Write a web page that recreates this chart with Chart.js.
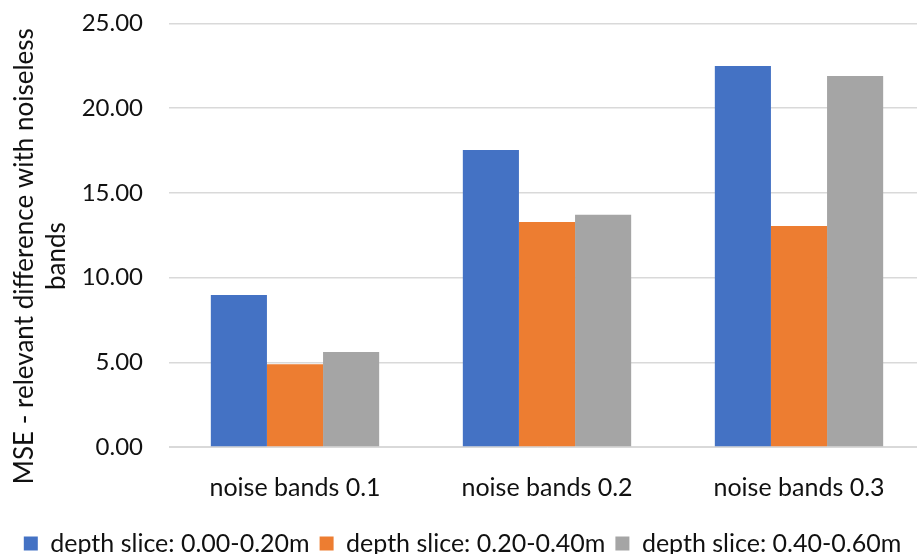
<!DOCTYPE html>
<html>
<head>
<meta charset="utf-8">
<script src="https://cdn.jsdelivr.net/npm/chart.js@4"></script>
<style>
    html, body { margin: 0; padding: 0; background: #fff; overflow: hidden; }
    #wrap { width: 925px; height: 571px; margin-top: -17px; }
</style>
</head>
<body>
<div id="wrap"><canvas id="mseChart"></canvas></div>
<script>
// MSE per noise level, split by depth slice
const categories = ['noise bands 0.1', 'noise bands 0.2', 'noise bands 0.3'];
const sliceLabels = ['depth slice: 0.00-0.20m', 'depth slice: 0.20-0.40m', 'depth slice: 0.40-0.60m'];
const slice000to020 = [8.97, 17.53, 22.49];
const slice020to040 = [4.88, 13.28, 13.05];
const slice040to060 = [5.61, 13.70, 21.90];
const yTicks = [0, 5, 10, 15, 20, 25];
const yTitleLines = ['MSE - relevant difference with noiseless', 'bands'];

const colors = ['#4472C4', '#ED7D31', '#A5A5A5'];
const fontFamily = 'Lato, "Open Sans", sans-serif';
const textColor = '#111';

const series = [slice000to020, slice020to040, slice040to060];

// Two-line rotated y title, sitting a bit below the middle of the plot
const yTitlePlugin = {
    id: 'yTitle',
    afterDraw(chart) {
        const { ctx, chartArea } = chart;
        const cy = (chartArea.top + chartArea.bottom) / 2 + 21;
        ctx.save();
        ctx.font = `26px ${fontFamily}`;
        ctx.fillStyle = textColor;
        ctx.textAlign = 'center';
        ctx.textBaseline = 'middle';
        yTitleLines.forEach((line, i) => {
            ctx.save();
            ctx.translate(25 + i * 32, cy);
            ctx.rotate(-Math.PI / 2);
            ctx.fillText(line, 0, 0);
            ctx.restore();
        });
        ctx.restore();
    }
};

const ctx = document.getElementById('mseChart').getContext('2d');
new Chart(ctx, {
    type: 'bar',
    data: {
        labels: categories,
        datasets: series.map((values, i) => ({
            label: sliceLabels[i],
            data: values,
            backgroundColor: colors[i],
            borderWidth: 0,
            barPercentage: 1.0,
            categoryPercentage: 0.668
        }))
    },
    options: {
        responsive: true,
        maintainAspectRatio: false,
        animation: false,
        layout: { padding: { top: -23, right: 0, bottom: -12, left: 0 } },
        plugins: {
            legend: {
                position: 'bottom',
                labels: {
                    color: textColor,
                    font: { family: fontFamily, size: 25 },
                    boxWidth: 14,
                    boxHeight: 14,
                    padding: 10
                }
            },
            tooltip: { enabled: false }
        },
        scales: {
            x: {
                grid: { display: false },
                border: { color: '#D9D9D9', width: 1 },
                ticks: {
                    color: textColor,
                    font: { family: fontFamily, size: 25 },
                    padding: 18
                }
            },
            y: {
                min: 0,
                max: 25,
                afterBuildTicks: axis => {
                    axis.ticks = yTicks.map(v => ({ value: v }));
                },
                // fixed axis width (title + tick labels) so the plot starts at the same x
                afterFit: axis => {
                    axis.width = 169;
                },
                grid: { color: '#D9D9D9', lineWidth: 1.5, drawTicks: false },
                border: { display: false },
                ticks: {
                    color: textColor,
                    font: { family: fontFamily, size: 24 },
                    padding: 26,
                    callback: v => Number(v).toFixed(2)
                }
            }
        }
    },
    plugins: [yTitlePlugin]
});
</script>
</body>
</html>
